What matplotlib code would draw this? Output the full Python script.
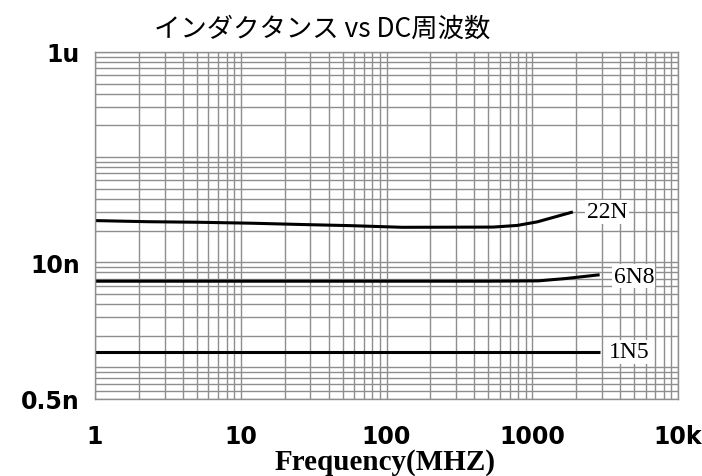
import matplotlib
matplotlib.use("Agg")
import matplotlib.pyplot as plt
from matplotlib.ticker import LogLocator, NullFormatter, FixedLocator

# ---- data ----
title_text = "インダクタンス vs DC周波数"
xlabel_text = "Frequency(MHZ)"

freq_22n = [1, 2.3, 5.2, 12, 28, 56, 128, 540, 790, 1080, 1900]
ind_22n = [24.9e-9, 24.3e-9, 24.0e-9, 23.5e-9, 22.8e-9, 22.3e-9, 21.5e-9, 21.6e-9, 22.4e-9, 24.2e-9, 30.1e-9]

freq_6n8 = [1, 10, 100, 500, 1100, 1700, 2900]
ind_6n8 = [6.6e-9, 6.6e-9, 6.6e-9, 6.6e-9, 6.65e-9, 7.0e-9, 7.6e-9]

freq_1n5 = [1, 10, 100, 1000, 2900]
ind_1n5 = [1.41e-9, 1.41e-9, 1.41e-9, 1.41e-9, 1.41e-9]

series_names = ["22N", "6N8", "1N5"]

xtick_vals = [1, 10, 100, 1000, 10000]
xtick_labels = ["1", "10", "100", "1000", "10k"]
ytick_vals = [1e-6, 1e-8, 0.5e-9]
ytick_labels = ["1u", "10n", "0.5n"]

# ---- figure ----
fig = plt.figure(figsize=(7.02, 4.77), dpi=100)
ax = fig.add_axes([95/702, 77/477, 583/702, 347/477])
ax.set_xscale("log")
ax.set_yscale("log")
ax.set_xlim(1, 10000)
ax.set_ylim(0.5e-9, 1e-6)

grid_col = "#8e8e8e"
ax.xaxis.set_minor_locator(LogLocator(base=10, subs=range(1, 10), numticks=50))
ax.yaxis.set_minor_locator(LogLocator(base=10, subs=range(1, 10), numticks=50))
ax.xaxis.set_minor_formatter(NullFormatter())
ax.yaxis.set_minor_formatter(NullFormatter())
ax.xaxis.set_major_locator(FixedLocator(xtick_vals))
ax.yaxis.set_major_locator(FixedLocator(ytick_vals))
ax.set_xticklabels(xtick_labels)
ax.set_yticklabels(ytick_labels)
ax.grid(True, which="both", color=grid_col, linewidth=1.0)
ax.set_axisbelow(True)
for s in ax.spines.values():
    s.set_color(grid_col)
    s.set_linewidth(1.0)

ax.tick_params(which="both", length=0)
ax.tick_params(axis="x", pad=18)
ax.tick_params(axis="y", pad=11)
for lab in ax.get_xticklabels() + ax.get_yticklabels():
    lab.set_fontfamily("DejaVu Sans")
    lab.set_fontweight("heavy")
    lab.set_fontsize(17)

series = [(freq_22n, ind_22n), (freq_6n8, ind_6n8), (freq_1n5, ind_1n5)]
offsets = [(10, 0), (10, -1), (7, 0)]
for (fx, fy), name, off in zip(series, series_names, offsets):
    ax.plot(fx, fy, color="black", linewidth=2.2, solid_capstyle="butt")
    ax.annotate(name, xy=(fx[-1], fy[-1]), xytext=off, textcoords="offset points",
                ha="left", va="center", fontsize=17, family="Liberation Serif",
                bbox=dict(facecolor="white", edgecolor="none", pad=1.0))

fig.text(322/702, 1 - 29/477, title_text, ha="center", va="center",
         fontsize=19, family=["Noto Sans CJK JP", "DejaVu Sans"])
fig.text(385/702, (477 - 470)/477, xlabel_text, ha="center", va="baseline",
         fontsize=21, family="Liberation Serif", fontweight="bold")

fig.savefig("out.png", dpi=100)
